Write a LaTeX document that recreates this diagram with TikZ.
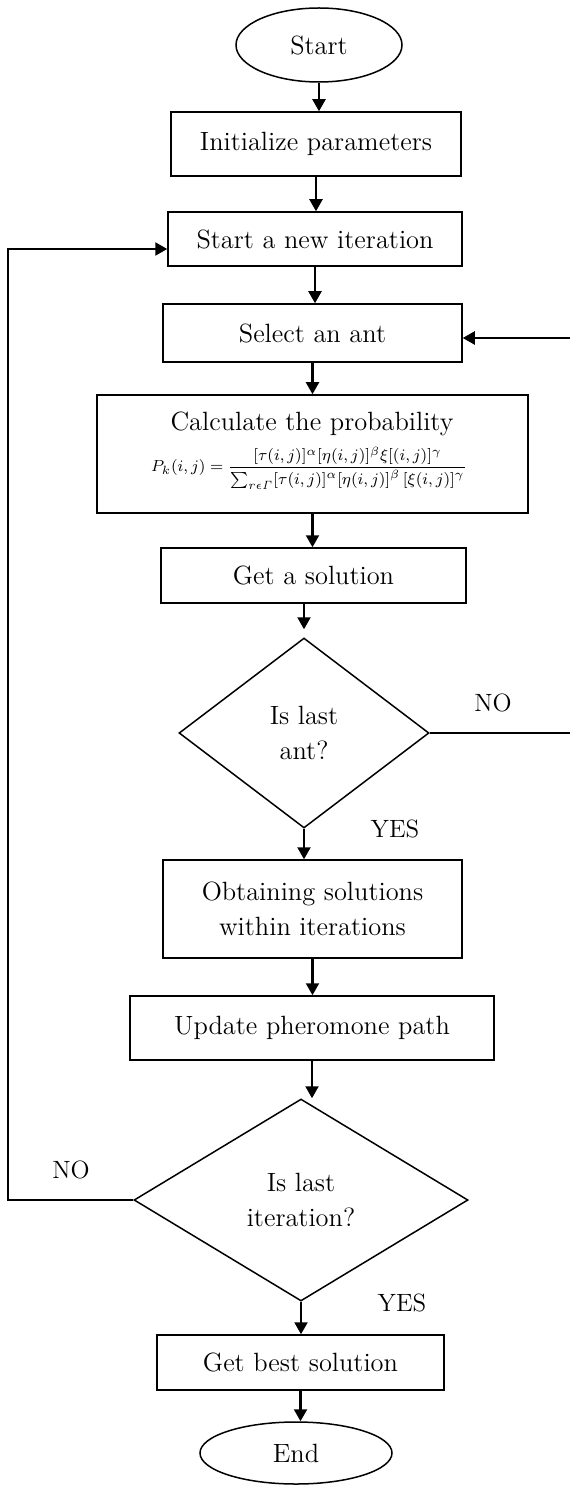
\documentclass[tikz,border=0pt]{standalone}
\usepackage{amsmath}
\usetikzlibrary{shapes.geometric,arrows.meta,calc}
\begin{document}
\begin{tikzpicture}[x=0.5pt,y=-0.5pt,
  base/.style={draw,line width=0.75pt,inner sep=2pt,align=center,font=\fontsize{13.2}{17.5}\selectfont},
  procbox/.style={base,rectangle},
  term/.style={base,ellipse},
  decide/.style={base,diamond,inner sep=0pt},
  plain/.style={inner sep=0pt,align=center},
  arr/.style={line width=1.1pt,-{Triangle[length=6pt,width=6.5pt]}},
  conn/.style={line width=0.9pt},
  lbl/.style={font=\fontsize{12.5}{14}\selectfont,inner sep=0pt}]
\useasboundingbox (0,0) rectangle (570,1486);

\node[term,minimum width=83pt,minimum height=37pt] (start) at (319,45) {Start};
\node[procbox,minimum width=145pt,minimum height=32pt] (init) at (316,144) {Initialize parameters};
\node[procbox,minimum width=147pt,minimum height=27pt] (newit) at (315,239) {Start a new iteration};
\node[procbox,minimum width=149.5pt,minimum height=29pt] (select) at (312.5,333) {Select an ant};
\node[procbox,minimum width=215.5pt,minimum height=59pt] (calc) at (312.5,454) {};
\node[plain,font=\fontsize{13.2}{15}\selectfont] (calctitle) at (312,424) {Calculate the probability};
\node[plain,font=\fontsize{8.5}{10}\selectfont] (formula) at (309,468)
  {$P_k(i,j)=\dfrac{[\tau(i,j)]^{\alpha}[\eta(i,j)]^{\beta}\xi[(i,j)]^{\gamma}}{\textstyle\sum_{r\epsilon\mathit{\Gamma}}[\tau(i,j)]^{\alpha}[\eta(i,j)]^{\beta}\,[\xi(i,j)]^{\gamma}}$};
\node[procbox,minimum width=152.5pt,minimum height=27.5pt] (getsol) at (313.5,575.5) {Get a solution};
\node[decide,minimum width=125pt,minimum height=95pt] (d1) at (304,733) {Is last\\ant?};
\node[procbox,minimum width=149.5pt,minimum height=49pt] (obtain) at (312.5,909) {Obtaining solutions\\within iterations};
\node[procbox,minimum width=182pt,minimum height=32pt] (update) at (312,1028) {Update pheromone path};
\node[decide,minimum width=167pt,minimum height=101pt] (d2) at (301,1200) {Is last\\iteration?};
\node[procbox,minimum width=143.5pt,minimum height=27.5pt] (best) at (300.5,1362.5) {Get best solution};
\node[term,minimum width=96pt,minimum height=31pt] (end) at (296,1453) {End};

\node[lbl] (no1) at (493,703) {NO};
\node[lbl] (yes1) at (395,829) {YES};
\node[lbl] (no2) at (71,1170) {NO};
\node[lbl] (yes2) at (402,1303) {YES};

\draw[arr] (start.south) -- (start.south |- init.north);
\draw[arr] (init.south) -- (init.south |- newit.north);
\draw[arr] (newit.south) -- (newit.south |- select.north);
\draw[arr] (select.south) -- (select.south |- calc.north);
\draw[arr] (calc.south) -- (calc.south |- getsol.north);
\draw[arr] (getsol.south -| d1.north) -- ($(d1.north)+(0,-8)$);
\draw[arr] (d1.south) -- (d1.south |- obtain.north);
\draw[arr] (obtain.south) -- (obtain.south |- update.north);
\draw[arr] (update.south) -- (update.south |- d2.north);
\draw[arr] (d2.south) -- (d2.south |- best.north);
\draw[arr] (best.south) -- (best.south |- end.north);

\coordinate (rr) at (570,733);
\draw[conn] (d1.east) -- (rr);
\coordinate (rs) at (570,338);
\draw[arr] (rs) -- (rs -| select.east);

\coordinate (lb) at (8,1210);
\coordinate (lt) at (8,249);
\draw[arr] (d2.west) -- (d2.west -| lb) -- (lt) -- (lt -| newit.west);
\end{tikzpicture}
\end{document}
